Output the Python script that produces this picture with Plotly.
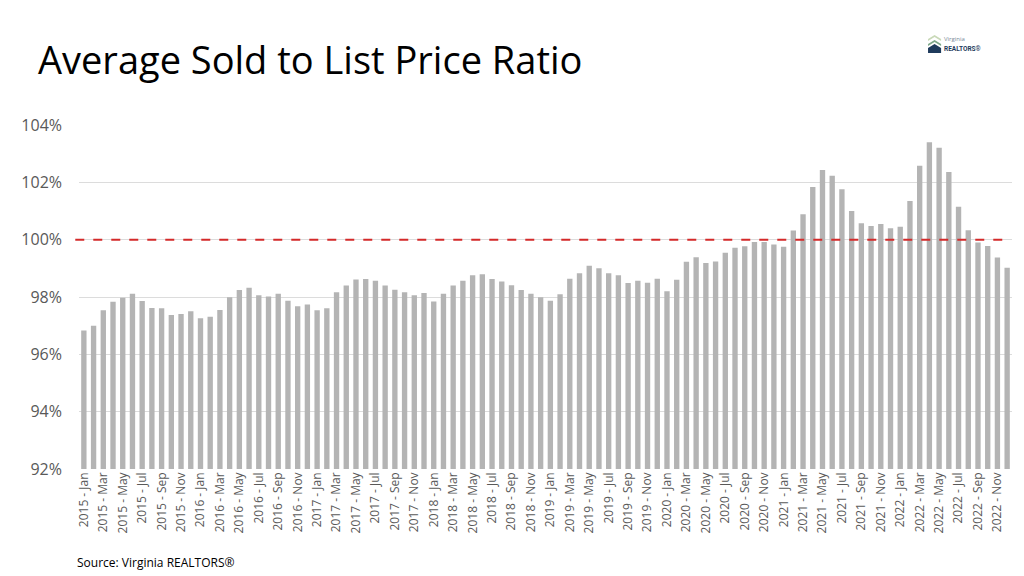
import plotly.graph_objects as go

years = [2015, 2016, 2017, 2018, 2019, 2020, 2021, 2022]
months = ["Jan", "Feb", "Mar", "Apr", "May", "Jun", "Jul", "Aug", "Sep", "Oct", "Nov", "Dec"]
categories = [f"{y} - {m}" for y in years for m in months]

ratio_2015 = [96.83, 97.00, 97.54, 97.83, 97.97, 98.11, 97.86, 97.62, 97.61, 97.37, 97.41, 97.50]
ratio_2016 = [97.26, 97.31, 97.55, 97.99, 98.24, 98.32, 98.06, 98.02, 98.11, 97.87, 97.68, 97.74]
ratio_2017 = [97.54, 97.61, 98.17, 98.40, 98.61, 98.63, 98.57, 98.40, 98.25, 98.17, 98.06, 98.14]
ratio_2018 = [97.84, 98.11, 98.40, 98.57, 98.76, 98.79, 98.63, 98.54, 98.41, 98.24, 98.11, 97.99]
ratio_2019 = [97.87, 98.10, 98.64, 98.83, 99.09, 99.00, 98.83, 98.76, 98.49, 98.57, 98.50, 98.64]
ratio_2020 = [98.20, 98.60, 99.23, 99.39, 99.19, 99.24, 99.54, 99.72, 99.77, 99.92, 99.92, 99.83]
ratio_2021 = [99.75, 100.32, 100.89, 101.84, 102.43, 102.23, 101.76, 101.00, 100.57, 100.48, 100.55, 100.40]
ratio_2022 = [100.45, 101.35, 102.58, 103.40, 103.21, 102.36, 101.15, 100.33, 99.90, 99.78, 99.38, 99.02]

values = (ratio_2015 + ratio_2016 + ratio_2017 + ratio_2018 +
          ratio_2019 + ratio_2020 + ratio_2021 + ratio_2022)

tick_labels = categories[::2]
y_ticks = [92, 94, 96, 98, 100, 102, 104]
y_tick_text = ["92%", "94%", "96%", "98%", "100%", "102%", "104%"]
reference_level = 100

FONT = "Open Sans"
# the page body adds an 8px offset; the figure is sized to compensate
W, H = 1016, 568

fig = go.Figure()
fig.add_trace(go.Bar(
    x=categories,
    y=values,
    marker=dict(color="#b4b4b4", line=dict(width=0)),
    hovertemplate="%{x}: %{y:.2f}%<extra></extra>",
))

fig.add_shape(
    type="line", xref="paper", yref="y",
    x0=-0.004, x1=0.998, y0=reference_level, y1=reference_level,
    line=dict(color="#d42a2a", width=2, dash="dash"),
)

fig.update_layout(
    width=W, height=H,
    margin=dict(l=71, r=12, t=117, b=107, autoexpand=False),
    paper_bgcolor="white", plot_bgcolor="white",
    bargap=0.45,
    showlegend=False,
    font=dict(family=FONT, color="#595959"),
    title=dict(
        text="Average Sold to List Price Ratio",
        x=30 / W, xanchor="left", xref="container",
        y=1 - 53 / H, yanchor="middle", yref="container",
        font=dict(family=FONT, size=38, color="#000000"),
    ),
    xaxis=dict(
        type="category",
        tickmode="array", tickvals=tick_labels, ticktext=tick_labels,
        tickangle=-90, tickfont=dict(size=12, color="#595959"),
        showgrid=False, showline=False, ticks="", automargin=False,
    ),
    yaxis=dict(
        range=[92, 104],
        tickmode="array", tickvals=y_ticks, ticktext=y_tick_text,
        tickfont=dict(size=16, color="#595959"),
        showgrid=True, gridcolor="#dcdcdc", gridwidth=1,
        zeroline=False, showline=False, ticks="", ticklabelstandoff=16,
        automargin=False,
    ),
)

fig.add_annotation(
    text="Source: Virginia REALTORS®",
    xref="paper", yref="paper", x=-4 / 933, y=-93 / 344,
    xanchor="left", yanchor="middle", showarrow=False,
    font=dict(family=FONT, size=12, color="#000000"),
)

# Logo: stylised house chevrons plus text
fig.add_shape(type="path", xref="paper", yref="paper",
              path="M 0.910 1.2500 L 0.917 1.2616 L 0.924 1.2500 L 0.924 1.2442 L 0.917 1.2558 L 0.910 1.2442 Z",
              fillcolor="#c9d9b8", line=dict(width=0))
fig.add_shape(type="path", xref="paper", yref="paper",
              path="M 0.910 1.2355 L 0.917 1.2471 L 0.924 1.2355 L 0.924 1.2297 L 0.917 1.2413 L 0.910 1.2297 Z",
              fillcolor="#7fa88a", line=dict(width=0))
fig.add_shape(type="path", xref="paper", yref="paper",
              path="M 0.910 1.2093 L 0.910 1.2238 L 0.917 1.2355 L 0.924 1.2238 L 0.924 1.2093 Z",
              fillcolor="#1f3b5c", line=dict(width=0))
fig.add_annotation(text="Virginia", xref="paper", yref="paper",
                   x=0.925, y=1.249, xanchor="left", yanchor="middle", showarrow=False,
                   font=dict(family=FONT, size=6, color="#7a8a99"))
fig.add_annotation(text="<b>REALTORS</b>®", xref="paper", yref="paper",
                   x=0.925, y=1.221, xanchor="left", yanchor="middle", showarrow=False,
                   font=dict(family="Liberation Sans Narrow, Roboto", size=6.5, color="#1f3b5c"))

fig.write_html("out.html")
